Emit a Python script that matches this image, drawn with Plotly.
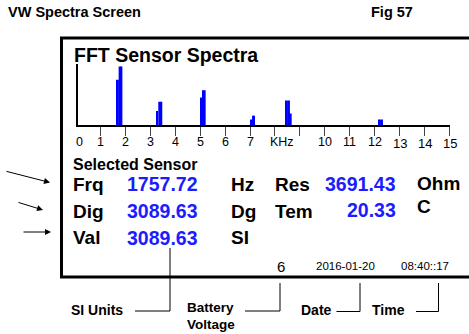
import plotly.graph_objects as go

# --- spectrum data (frequency bins in kHz, relative amplitude) ---
freq_khz = [1.70, 1.77, 1.84, 3.27, 3.36, 3.44, 5.06, 5.12, 5.18,
            7.06, 7.12, 7.16, 8.63, 8.48, 8.56, 12.21, 12.29]
amplitude = [0.74, 0.96, 0.96, 0.23, 0.38, 0.38, 0.45, 0.57, 0.57,
             0.09, 0.15, 0.15, 0.19, 0.40, 0.40, 0.09, 0.09]
bin_width = 0.08

# --- axis labels ---
tick_vals = list(range(1, 16))
label_pos = [0.15, 1, 2, 3, 4, 5, 6, 7, 8.28, 10, 11, 12, 13, 14, 15]
label_text = ["0", "1", "2", "3", "4", "5", "6", "7", "KHz",
              "10", "11", "12", "13", "14", "15"]

# --- readout panel ---
row_names = ["Frq", "Dig", "Val"]
row_values = ["1757.72", "3089.63", "3089.63"]
row_units = ["Hz", "Dg", "SI"]
side_names = ["Res", "Tem"]
side_values = ["3691.43", "20.33"]
side_units = ["Ohm", "C"]
battery = "6"
date_text = "2016-01-20"
time_text = "08:40::17"

W, H = 469, 334
FONT = "Liberation Sans, Arial, sans-serif"
BLUE = "#1c1cff"


def px(x):
    return x / W


def py(y):
    return 1 - y / H


fig = go.Figure()
fig.add_trace(go.Bar(x=freq_khz, y=amplitude, width=bin_width,
                     marker=dict(color="#0000ff", line=dict(width=0)),
                     hoverinfo="skip"))

annotations = []
shapes = []


def text(x, y, s, size, color="black", bold=True, xanchor="left", xref="paper"):
    annotations.append(dict(
        x=x if xref == "x" else px(x), y=py(y), xref=xref, yref="paper",
        text=f"<b>{s}</b>" if bold else s, showarrow=False,
        xanchor=xanchor, yanchor="middle",
        font=dict(family=FONT, size=size, color=color),
        borderpad=0, borderwidth=0))


def line(x0, y0, x1, y1, width=1, color="black"):
    shapes.append(dict(type="line", xref="paper", yref="paper",
                       x0=px(x0), y0=py(y0), x1=px(x1), y1=py(y1),
                       line=dict(color=color, width=width)))


# headings
text(8, 12, "VW Spectra Screen", 14.5)
text(371, 12, "Fig 57", 14.5)
text(74, 55, "FFT Sensor Spectra", 19.5)

# frequency axis labels
for pos, lab in zip(label_pos, label_text):
    big = pos >= 13
    text(pos, 143.5 if big else 142, lab, 13 if big else 12.5,
         bold=False, xanchor="center", xref="x")

# screen frame
shapes.append(dict(type="rect", xref="paper", yref="paper",
                   x0=px(61.5), y0=py(277), x1=px(480), y1=py(38),
                   line=dict(color="black", width=3)))

# readout rows
text(73, 164, "Selected Sensor", 16)
row_y = [184, 211, 238]
for yy, n, v, u in zip(row_y, row_names, row_values, row_units):
    text(73, yy, n, 19)
    text(127, yy, v, 19.5, color=BLUE)
    text(231, yy, u, 19)
for yy, n in zip(row_y[:2], side_names):
    text(275, yy, n, 19)
text(396, 183.5, side_values[0], 19.5, color=BLUE, xanchor="right")
text(396, 209.5, side_values[1], 19.5, color=BLUE, xanchor="right")
text(417, 183.5, side_units[0], 19)
text(417, 207, side_units[1], 19)

# status line
text(280.5, 266, battery, 15, bold=False, xanchor="center")
text(345, 266, date_text, 11.5, bold=False, xanchor="center")
text(425, 266, time_text, 11.5, bold=False, xanchor="center")

# callouts
text(71, 309.5, "SI Units", 14)
line(170, 248, 170, 311)
line(135, 311, 170, 311)

text(187, 307.5, "Battery", 13.5)
text(187, 324, "Voltage", 13.5)
line(245, 311, 280, 311)
line(280, 311, 280, 283)

text(301, 309.5, "Date", 14)
line(336.5, 311.5, 360, 311.5)
line(360, 311.5, 360, 283)

text(372, 309.5, "Time", 14)
line(416, 311.5, 438.5, 311.5)
line(438.5, 311.5, 438.5, 283)

# arrows pointing at the readout rows
for (x0, y0, x1, y1) in [(5, 171, 50, 182.5), (17, 202, 43, 210), (22, 232, 51, 232)]:
    annotations.append(dict(
        x=px(x1), y=py(y1), xref="paper", yref="paper",
        ax=x0 - x1, ay=y0 - y1, axref="pixel", ayref="pixel",
        text="", showarrow=True, arrowhead=2, arrowsize=1.2,
        arrowwidth=1, arrowcolor="black"))

fig.update_layout(
    width=W, height=H,
    margin=dict(l=0, r=0, t=0, b=0),
    paper_bgcolor="white", plot_bgcolor="white",
    showlegend=False,
    xaxis=dict(domain=[px(78), px(449.5)], range=[0.1, 15],
               showgrid=False, zeroline=False,
               showline=True, linecolor="black", linewidth=2,
               ticks="outside", ticklen=9, tickwidth=1, tickcolor="#444",
               tickvals=tick_vals, showticklabels=False, fixedrange=True),
    yaxis=dict(domain=[py(125), py(64)], range=[0, 1],
               showgrid=False, zeroline=False,
               showline=True, linecolor="black", linewidth=2,
               ticks="", showticklabels=False, fixedrange=True),
    annotations=annotations,
    shapes=shapes,
)

fig.write_html("out.html")
